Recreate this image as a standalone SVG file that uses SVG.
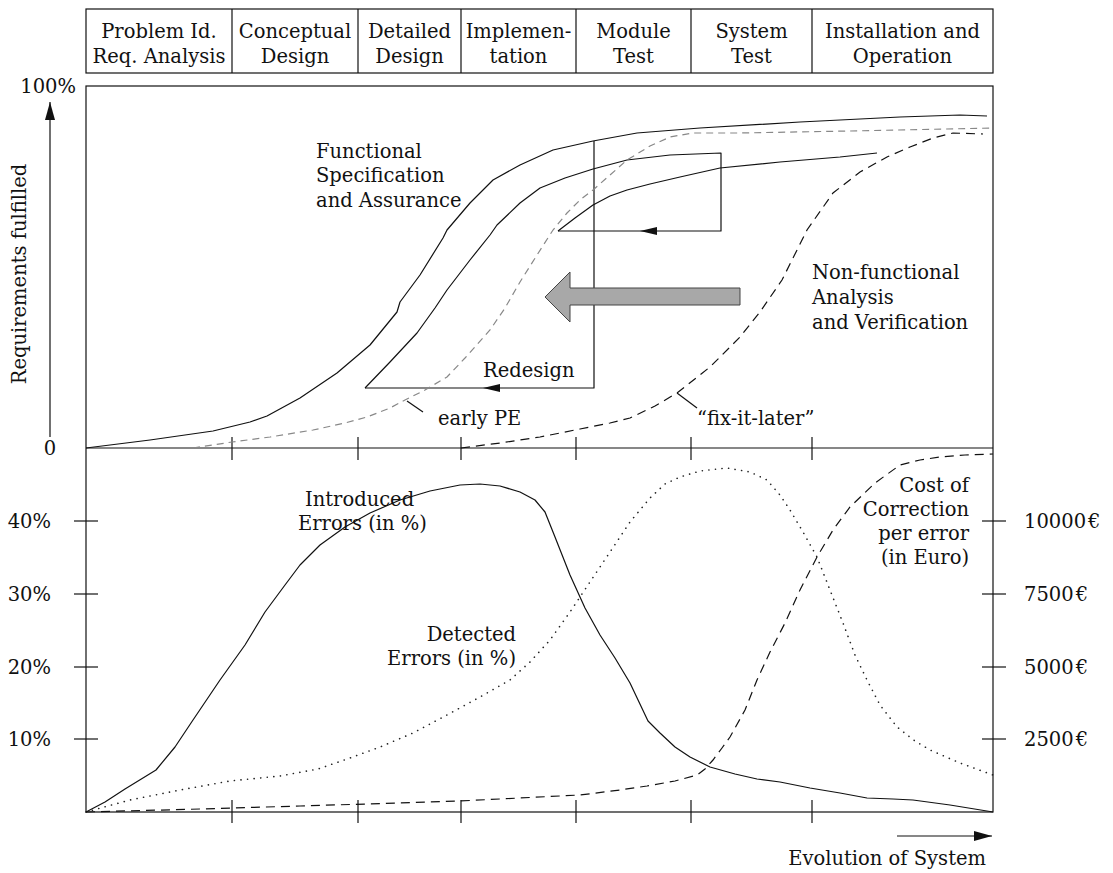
<svg xmlns="http://www.w3.org/2000/svg" width="1113" height="873" viewBox="0 0 1113 873">
  <style>
    text { font-family: "DejaVu Serif", "Liberation Serif", serif; font-size: 19.5px; fill: #111; }
    .mid { text-anchor: middle; }
    .end { text-anchor: end; }
    .frame { fill: none; stroke: #111; stroke-width: 1.2; }
    .solid { fill: none; stroke: #111; stroke-width: 1.2; stroke-linejoin: round; }
    .dash { fill: none; stroke: #111; stroke-width: 1.2; stroke-dasharray: 9 6; }
    .gdash { fill: none; stroke: #888; stroke-width: 1.2; stroke-dasharray: 7 5; }
    .dot { fill: none; stroke: #222; stroke-width: 1.6; stroke-dasharray: 0.1 6.5; stroke-linecap: round; }
    .tick { stroke: #111; stroke-width: 1.2; }
    .head { fill: #111; }
  </style>
  <defs>
    <marker id="arrow" viewBox="0 0 18 10" refX="18" refY="5" markerWidth="18" markerHeight="10" markerUnits="userSpaceOnUse" orient="auto">
      <path d="M0,0 L18,5 L0,10 Z" fill="#111"/>
    </marker>
  </defs>

  <!-- phase header -->
  <g id="phases">
    <rect class="frame" x="86" y="9" width="907" height="64"/>
    <line class="tick" x1="232" y1="9" x2="232" y2="73"/>
    <line class="tick" x1="358" y1="9" x2="358" y2="73"/>
    <line class="tick" x1="461" y1="9" x2="461" y2="73"/>
    <line class="tick" x1="576" y1="9" x2="576" y2="73"/>
    <line class="tick" x1="691" y1="9" x2="691" y2="73"/>
    <line class="tick" x1="812" y1="9" x2="812" y2="73"/>
    <text class="mid" x="159" y="38">Problem Id.</text>
    <text class="mid" x="159" y="63">Req. Analysis</text>
    <text class="mid" x="295" y="38">Conceptual</text>
    <text class="mid" x="295" y="63">Design</text>
    <text class="mid" x="409.5" y="38">Detailed</text>
    <text class="mid" x="409.5" y="63">Design</text>
    <text class="mid" x="518.5" y="38">Implemen-</text>
    <text class="mid" x="518.5" y="63">tation</text>
    <text class="mid" x="633.5" y="38">Module</text>
    <text class="mid" x="633.5" y="63">Test</text>
    <text class="mid" x="751.5" y="38">System</text>
    <text class="mid" x="751.5" y="63">Test</text>
    <text class="mid" x="902.5" y="38">Installation and</text>
    <text class="mid" x="902.5" y="63">Operation</text>
  </g>

  <!-- plot frames and axes -->
  <g id="axes">
    <rect class="frame" x="86" y="86" width="907" height="726"/>
    <line class="tick" x1="86" y1="448" x2="993" y2="448"/>
    <!-- phase ticks on middle axis -->
    <line class="tick" x1="232" y1="437" x2="232" y2="460"/>
    <line class="tick" x1="358" y1="437" x2="358" y2="460"/>
    <line class="tick" x1="461" y1="437" x2="461" y2="460"/>
    <line class="tick" x1="576" y1="437" x2="576" y2="460"/>
    <line class="tick" x1="691" y1="437" x2="691" y2="460"/>
    <line class="tick" x1="812" y1="437" x2="812" y2="460"/>
    <!-- phase ticks on bottom axis -->
    <line class="tick" x1="232" y1="800" x2="232" y2="823"/>
    <line class="tick" x1="358" y1="800" x2="358" y2="823"/>
    <line class="tick" x1="461" y1="800" x2="461" y2="823"/>
    <line class="tick" x1="576" y1="800" x2="576" y2="823"/>
    <line class="tick" x1="691" y1="800" x2="691" y2="823"/>
    <line class="tick" x1="812" y1="800" x2="812" y2="823"/>
    <!-- percent ticks -->
    <line class="tick" x1="74" y1="521" x2="98" y2="521"/>
    <line class="tick" x1="74" y1="594" x2="98" y2="594"/>
    <line class="tick" x1="74" y1="667" x2="98" y2="667"/>
    <line class="tick" x1="74" y1="739" x2="98" y2="739"/>
    <!-- euro ticks -->
    <line class="tick" x1="982" y1="521" x2="1006" y2="521"/>
    <line class="tick" x1="982" y1="594" x2="1006" y2="594"/>
    <line class="tick" x1="982" y1="667" x2="1006" y2="667"/>
    <line class="tick" x1="982" y1="739" x2="1006" y2="739"/>

    <text class="end" x="76" y="93">100%</text>
    <text class="mid" x="50" y="455">0</text>
    <line class="tick" x1="50" y1="437" x2="50" y2="102" marker-end="url(#arrow)"/>
    <text class="mid" transform="translate(26 274) rotate(-90)">Requirements fulfilled</text>

    <text class="end" x="51" y="528">40%</text>
    <text class="end" x="51" y="601">30%</text>
    <text class="end" x="51" y="674">20%</text>
    <text class="end" x="51" y="746">10%</text>

    <text x="1024" y="528">10000<tspan dx="2">€</tspan></text>
    <text x="1024" y="601">7500<tspan dx="2">€</tspan></text>
    <text x="1024" y="674">5000<tspan dx="2">€</tspan></text>
    <text x="1024" y="746">2500<tspan dx="2">€</tspan></text>

    <line class="tick" x1="897" y1="836" x2="992" y2="836" marker-end="url(#arrow)"/>
    <text class="end" x="986" y="865">Evolution of System</text>
  </g>

  <!-- requirement curves -->
  <g id="connectors">
    <path id="functional-outer" class="solid" d="M86,448 L150,440 L213,431 L250,422 L267,416 L300,398 L337,373 L370,345 L397,312 L400,302 L420,275 L443,238 L447,230 L470,203 L493,180 L520,165 L553,150 L593,141 L637,133 L700,128 L800,122 L900,117 L960,115 L987,116"/>
    <path id="functional-inner" class="solid" d="M365,388 L390,362 L417,333 L435,308 L447,290 L470,260 L490,235 L497,225 L520,203 L540,188 L565,178 L593,169 L627,160 L670,155 L721,153 L721,231 L558,231"/>
    <path id="functional-late" class="solid" d="M558,231 L575,218 L593,205 L610,196 L627,190 L650,184 L680,177 L720,168 L780,162 L840,157 L877,153"/>
    <path id="redesign-loop" class="solid" d="M594,141 L594,388 L365,388"/>
    <polygon class="head" points="640,231 657,227 657,235"/>
    <polygon class="head" points="483,388 500,384 500,392"/>

    <path id="early-pe" class="gdash" d="M193,448 L232,442 L270,437 L313,430 L345,423 L367,417 L390,408 L405,400 L425,390 L447,377 L465,358 L490,330 L505,308 L520,282 L537,255 L553,230 L567,213 L580,200 L593,190 L610,175 L627,160 L650,146 L670,137 L693,133 L740,133 L850,131 L993,128"/>
    <path id="fix-it-later" class="dash" d="M461,448 L500,443 L540,437 L580,429 L610,423 L630,418 L655,406 L677,393 L710,367 L740,337 L760,312 L782,280 L807,230 L833,193 L860,172 L887,157 L910,147 L933,138 L953,133 L983,134"/>
    <line class="tick" x1="407" y1="401" x2="423" y2="412"/>
    <line class="tick" x1="677" y1="393" x2="697" y2="408"/>

    <polygon id="shift-arrow" points="545,297 570,272 570,288 740,288 740,305 570,305 570,322" fill="#a8a8a8" stroke="#444" stroke-width="1"/>

    <!-- error curves -->
    <path id="introduced" class="solid" d="M86,812 L105,802 L125,789 L156,770 L175,747 L193,720 L220,680 L245,645 L265,612 L285,585 L300,565 L320,545 L345,527 L370,513 L400,500 L430,491 L460,485 L480,484 L500,486 L520,492 L535,500 L545,512 L555,537 L570,575 L585,608 L600,635 L615,658 L630,683 L648,721 L660,733 L675,747 L690,757 L710,767 L735,774 L757,779 L780,782 L810,788 L840,793 L867,798 L893,799 L913,800 L950,805 L993,812"/>
    <path id="detected" class="dot" d="M86,812 L130,800 L180,790 L230,781 L280,776 L318,769 L350,758 L380,747 L413,733 L447,715 L480,697 L510,680 L530,662 L550,640 L570,612 L590,582 L610,552 L630,522 L650,498 L665,484 L680,477 L700,471 L727,468 L750,472 L767,480 L780,495 L790,510 L803,532 L817,557 L830,590 L843,623 L855,655 L867,680 L880,705 L897,727 L915,741 L930,750 L960,763 L993,775"/>
    <path id="cost" class="dash" d="M86,812 L200,809 L300,806 L400,803 L460,801 L520,798 L580,795 L620,790 L647,786 L675,781 L697,775 L705,769 L713,760 L722,748 L730,737 L745,710 L757,680 L770,652 L785,623 L800,590 L817,557 L833,530 L850,507 L875,483 L900,465 L920,460 L940,457 L965,455 L993,454"/>
  </g>

  <!-- curve labels -->
  <g id="labels">
    <text x="316" y="158">Functional</text>
    <text x="316" y="182">Specification</text>
    <text x="316" y="207">and Assurance</text>
    <text x="483" y="377">Redesign</text>
    <text x="438" y="425">early PE</text>
    <text x="697" y="425">“fix-it-later”</text>
    <text x="812" y="279">Non-functional</text>
    <text x="812" y="304">Analysis</text>
    <text x="812" y="329">and Verification</text>
    <text x="305" y="506">Introduced</text>
    <text x="298" y="530">Errors (in %)</text>
    <text class="end" x="516" y="641">Detected</text>
    <text class="end" x="516" y="665">Errors (in %)</text>
    <text class="end" x="969" y="492">Cost of</text>
    <text class="end" x="969" y="516">Correction</text>
    <text class="end" x="969" y="540">per error</text>
    <text class="end" x="969" y="564">(in Euro)</text>
  </g>
</svg>
